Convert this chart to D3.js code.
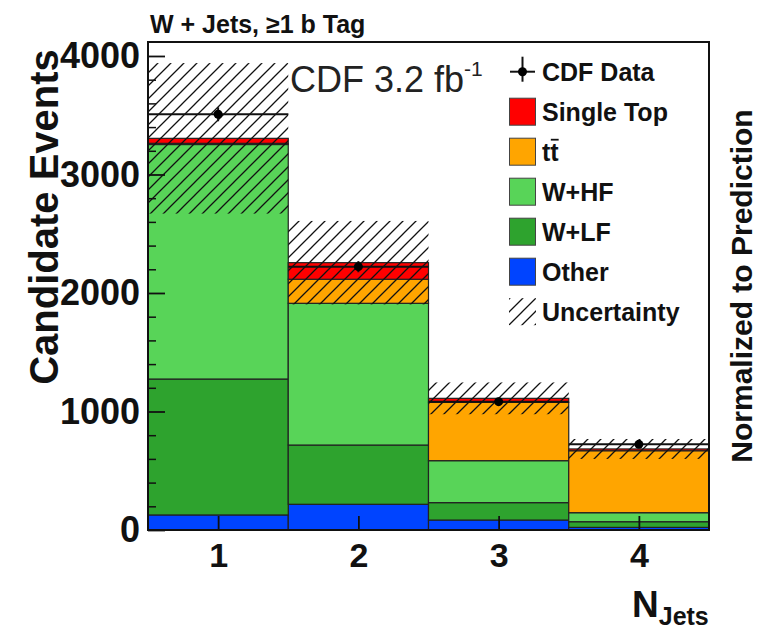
<!DOCTYPE html>
<html>
<head>
<meta charset="utf-8">
<script src="https://cdn.jsdelivr.net/npm/d3@7"></script>
<style>
  body { margin: 0; background: #fff; }
  text { font-family: "Liberation Sans", Arial, Helvetica, sans-serif; }
</style>
</head>
<body>
<script>
// bins and stacked backgrounds (events per bin)
var nJets = [1, 2, 3, 4];
var other = [127, 217, 84, 22];
var wlf = [1147, 500, 147, 48];
var whf = [1979, 1196, 354, 76];
var ttbar = [10, 203, 493, 523];
var singleTop = [42, 140, 33, 15];
var cdfData = [3508, 2222, 1083, 723];
var dataErr = [59, 47, 33, 27];
var uncert = [635, 352, 134, 84];
var yTicks = [0, 1000, 2000, 3000, 4000];

var legendItems = [
  {label: "Single Top", color: "#ff0000"},
  {label: "tt", color: "#ffa500"},
  {label: "W+HF", color: "#58d458"},
  {label: "W+LF", color: "#2ea32e"},
  {label: "Other", color: "#0044ff"}
];
var colors = {other: "#0044ff", wlf: "#2ea32e", whf: "#58d458", ttbar: "#ffa500", singleTop: "#ff0000"};

var svg = d3.select("body").append("svg")
  .attr("width", 760)
  .attr("height", 629);

// hatch for uncertainty
var defs = svg.append("defs");
defs.append("pattern")
  .attr("id", "hatch")
  .attr("patternUnits", "userSpaceOnUse")
  .attr("width", 13).attr("height", 13)
  .append("path")
    .attr("d", "M-2,2 l4,-4 M0,13 l13,-13 M11,15 l4,-4")
    .attr("stroke", "#111")
    .attr("stroke-width", 1.3);

var x = d3.scaleLinear().domain([0.5, 4.5]).range([148, 709]);
var y = d3.scaleLinear().domain([0, 4118]).range([530, 42]);

// stack it
var table = nJets.map(function(n, i) {
  return {n: n, other: other[i], wlf: wlf[i], whf: whf[i], ttbar: ttbar[i], singleTop: singleTop[i]};
});
var keys = ["other", "wlf", "whf", "ttbar", "singleTop"];
var series = d3.stack().keys(keys)(table);

svg.append("g")
  .selectAll("g")
  .data(series)
  .enter().append("g")
    .attr("fill", function(s) { return colors[s.key]; })
  .selectAll("rect")
  .data(function(s) { return s; })
  .enter().append("rect")
    .attr("x", function(d) { return x(d.data.n - 0.5); })
    .attr("width", function(d) { return x(d.data.n + 0.5) - x(d.data.n - 0.5); })
    .attr("y", function(d) { return y(d[1]); })
    .attr("height", function(d) { return y(d[0]) - y(d[1]); })
    .attr("stroke", "#222")
    .attr("stroke-width", 1.2);

// uncertainty band round the total
var totals = table.map(function(d) { return d3.sum(keys, function(k) { return d[k]; }); });
svg.append("g")
  .selectAll("rect")
  .data(nJets)
  .enter().append("rect")
    .attr("x", function(n) { return x(n - 0.5); })
    .attr("width", function(n) { return x(n + 0.5) - x(n - 0.5); })
    .attr("y", function(n, i) { return y(totals[i] + uncert[i]); })
    .attr("height", function(n, i) { return y(totals[i] - uncert[i]) - y(totals[i] + uncert[i]); })
    .attr("fill", "url(#hatch)");

// axes (ticks inside the frame)
var minor = d3.range(0, 4001, 200).filter(function(v) { return v % 1000 != 0; });
svg.append("g")
  .attr("transform", "translate(148,0)")
  .call(d3.axisLeft(y).tickValues(minor).tickSize(-8).tickFormat(""))
  .call(function(g) { g.select(".domain").remove(); })
  .selectAll("line").attr("stroke", "#111").attr("stroke-width", 1.5);

var yAxis = svg.append("g")
  .attr("transform", "translate(148,0)")
  .call(d3.axisLeft(y).tickValues(yTicks).tickSize(-17).tickPadding(8).tickFormat(d3.format("d")));
yAxis.select(".domain").remove();
yAxis.selectAll("line").attr("stroke", "#111").attr("stroke-width", 1.8);
yAxis.selectAll("text")
  .attr("font-size", 36).attr("font-weight", "bold").attr("fill", "#111")
  .attr("font-family", "Liberation Sans, Arial, sans-serif");

var xAxis = svg.append("g")
  .attr("transform", "translate(0,530)")
  .call(d3.axisBottom(x).tickValues(nJets).tickSize(-14).tickPadding(13).tickFormat(d3.format("d")));
xAxis.select(".domain").remove();
xAxis.selectAll("line").attr("stroke", "#111").attr("stroke-width", 1.8);
xAxis.selectAll("text")
  .attr("font-size", 34).attr("font-weight", "bold").attr("fill", "#111")
  .attr("font-family", "Liberation Sans, Arial, sans-serif");

// data points
var pts = svg.append("g");
nJets.forEach(function(n, i) {
  pts.append("line")
    .attr("x1", x(n - 0.5)).attr("x2", x(n + 0.5))
    .attr("y1", y(cdfData[i])).attr("y2", y(cdfData[i]))
    .attr("stroke", "#111").attr("stroke-width", 2);
  pts.append("line")
    .attr("x1", x(n)).attr("x2", x(n))
    .attr("y1", y(cdfData[i] - dataErr[i])).attr("y2", y(cdfData[i] + dataErr[i]))
    .attr("stroke", "#111").attr("stroke-width", 2);
  pts.append("circle")
    .attr("cx", x(n)).attr("cy", y(cdfData[i]))
    .attr("r", 4.5).attr("fill", "#000");
});

// frame
svg.append("rect")
  .attr("x", 148).attr("y", 42)
  .attr("width", 561).attr("height", 488)
  .attr("fill", "none").attr("stroke", "#111").attr("stroke-width", 2);

// title + labels
svg.append("text")
  .attr("x", 150).attr("y", 33)
  .attr("font-size", 25).attr("font-weight", "bold").attr("fill", "#111")
  .text("W + Jets, \u22651 b Tag");

var cdf = svg.append("text")
  .attr("x", 290).attr("y", 92)
  .attr("font-size", 36).attr("fill", "#222")
  .text("CDF 3.2 fb");
cdf.append("tspan").attr("font-size", 21).attr("dy", -16).text("-1");

svg.append("text")
  .attr("transform", "translate(58,217) rotate(-90)")
  .attr("text-anchor", "middle")
  .attr("font-size", 40).attr("font-weight", "bold").attr("fill", "#111")
  .text("Candidate Events");

svg.append("text")
  .attr("transform", "translate(752,286) rotate(-90)")
  .attr("text-anchor", "middle")
  .attr("font-size", 30).attr("font-weight", "bold").attr("fill", "#111")
  .text("Normalized to Prediction");

var nj = svg.append("text")
  .attr("x", 632).attr("y", 617)
  .attr("font-size", 37).attr("font-weight", "bold").attr("fill", "#111")
  .text("N");
nj.append("tspan").attr("font-size", 25).attr("dy", 8).text("Jets");

// legend
var lg = svg.append("g").attr("transform", "translate(509,0)");
var rowY = function(i) { return 71.7 + i * 40; };

lg.append("line").attr("x1", 1).attr("x2", 26).attr("y1", rowY(0)).attr("y2", rowY(0))
  .attr("stroke", "#111").attr("stroke-width", 2);
lg.append("line").attr("x1", 13.5).attr("x2", 13.5).attr("y1", rowY(0) - 15).attr("y2", rowY(0) + 10)
  .attr("stroke", "#111").attr("stroke-width", 2);
lg.append("circle").attr("cx", 13.5).attr("cy", rowY(0)).attr("r", 4.5).attr("fill", "#000");
lg.append("text").attr("x", 33).attr("y", rowY(0)).attr("dy", "0.36em")
  .attr("font-size", 25).attr("font-weight", "bold").attr("fill", "#111").text("CDF Data");

legendItems.forEach(function(it, i) {
  var cy = rowY(i + 1);
  lg.append("rect")
    .attr("x", 0.5).attr("y", cy - 13.5).attr("width", 26).attr("height", 27)
    .attr("fill", it.color).attr("stroke", "#444").attr("stroke-width", 1);
  var t = lg.append("text").attr("x", 33).attr("y", cy).attr("dy", "0.36em")
    .attr("font-size", 25).attr("font-weight", "bold").attr("fill", "#111").text(it.label);
  if (it.label == "tt") {
    var w = t.node().getComputedTextLength();
    lg.append("line")
      .attr("x1", 33 + w / 2 + 0.5).attr("x2", 33 + w)
      .attr("y1", cy - 12).attr("y2", cy - 12)
      .attr("stroke", "#111").attr("stroke-width", 1.8);
  }
});

var uy = rowY(6);
lg.append("rect")
  .attr("x", 0).attr("y", uy - 13.5).attr("width", 27).attr("height", 27)
  .attr("fill", "url(#hatch)");
lg.append("text").attr("x", 33).attr("y", uy).attr("dy", "0.36em")
  .attr("font-size", 25).attr("font-weight", "bold").attr("fill", "#111").text("Uncertainty");
</script>
</body>
</html>
